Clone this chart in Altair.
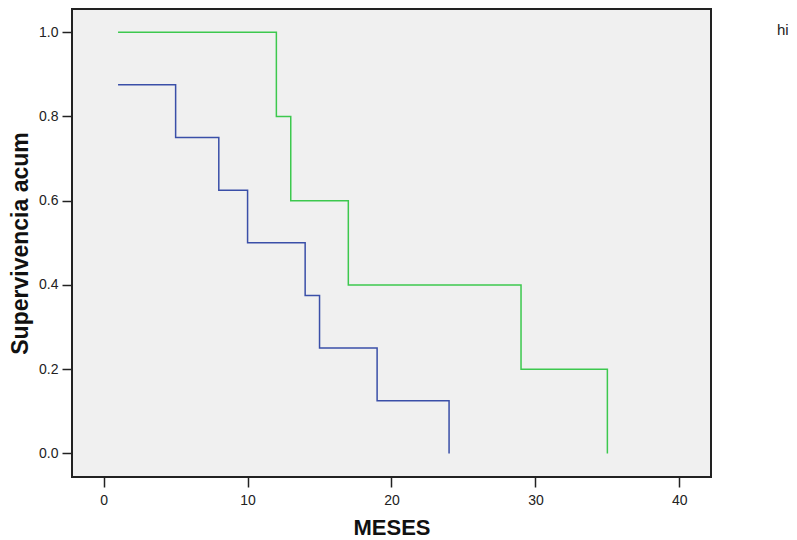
import altair as alt
import pandas as pd

# Kaplan-Meier step data
blue_t = [1, 5, 8, 10, 14, 15, 19, 24]
blue_s = [0.875, 0.75, 0.625, 0.5, 0.375, 0.25, 0.125, 0.0]
green_t = [1, 12, 13, 17, 29, 35]
green_s = [1.0, 0.8, 0.6, 0.4, 0.2, 0.0]
groups = ["azul", "verde"]
colors = ["#3A4FA8", "#3CC84E"]
x_ticks = [0, 10, 20, 30, 40]
y_ticks = [0.0, 0.2, 0.4, 0.6, 0.8, 1.0]
legend_text = "hi"

df = pd.concat([
    pd.DataFrame({"t": blue_t, "s": blue_s, "g": groups[0]}),
    pd.DataFrame({"t": green_t, "s": green_s, "g": groups[1]}),
])

FONT = "Liberation Sans"

x = alt.X("t:Q", title="MESES",
          scale=alt.Scale(domain=[-2.2, 42.2], nice=False, zero=False),
          axis=alt.Axis(values=x_ticks, format="d", grid=False, domain=False,
                        tickSize=10, tickWidth=1.5, tickColor="#222222",
                        labelFontSize=14, labelColor="#222222", labelFont=FONT,
                        labelPadding=6, titleFont=FONT, titleFontSize=22,
                        titleFontWeight="bold", titleColor="#111111", titlePadding=10))
y = alt.Y("s:Q", title="Supervivencia acum",
          scale=alt.Scale(domain=[-0.056, 1.055], nice=False, zero=False),
          axis=alt.Axis(values=y_ticks, format=".1f", grid=False, domain=False,
                        tickSize=10, tickWidth=1.5, tickColor="#222222",
                        labelFontSize=14, labelColor="#222222", labelFont=FONT,
                        labelPadding=4, titleFont=FONT, titleFontSize=23,
                        titleFontWeight="bold", titleColor="#111111", titlePadding=6))

lines = alt.Chart(df).mark_line(interpolate="step-after", strokeWidth=1.5).encode(
    x=x, y=y,
    color=alt.Color("g:N", scale=alt.Scale(domain=groups, range=colors), legend=None),
)

legend = alt.Chart(pd.DataFrame({"txt": [legend_text]})).mark_text(
    align="left", baseline="middle", fontSize=15, font=FONT, color="#222222"
).encode(text="txt:N", x=alt.value(705), y=alt.value(21))

chart = alt.layer(lines, legend).properties(
    width=639, height=468,
    autosize=alt.AutoSizeParams(type="none"),
    padding={"left": 64, "top": 1, "right": 78, "bottom": 62},
    background="white",
).configure_view(
    fill="#F0F0F0", stroke="#222222", strokeWidth=2
)

chart.save("out.html", embed_options={"renderer": "svg", "actions": False})
